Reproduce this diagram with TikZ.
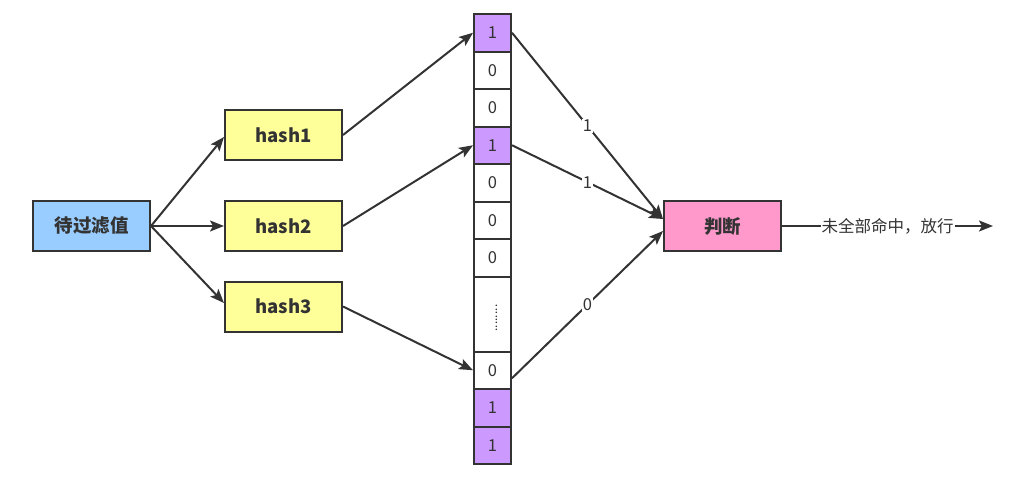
\documentclass[tikz,border=0pt]{standalone}
\usepackage{fontspec}
\setmainfont{Noto Sans CJK SC}
\usetikzlibrary{arrows.meta}
\definecolor{ink}{HTML}{333333}
\definecolor{srcfill}{HTML}{99CCFF}
\definecolor{hashfill}{HTML}{FFFF99}
\definecolor{bitfill}{HTML}{CC99FF}
\definecolor{judgefill}{HTML}{FF99CC}
\tikzset{
  box/.style={draw=ink, line width=2pt, minimum width=117pt, minimum height=50pt, inner sep=0pt,
    font=\fontsize{18.5}{18.5}\selectfont\bfseries, text=ink},
  cell/.style={draw=ink, line width=2pt, minimum width=37pt, minimum height=37.5pt, inner sep=0pt,
    font=\fontsize{16.5}{16.5}\selectfont, text=ink, fill=white},
  bit/.style={cell, fill=bitfill},
  conn/.style={draw=ink, line width=2pt, -{Stealth[length=14pt,width=11pt,inset=3pt]}},
  elabel/.style={fill=white, inner sep=1pt, font=\fontsize{16.5}{16.5}\selectfont, text=ink}
}
\begin{document}
\begin{tikzpicture}[x=1pt,y=-1pt]
\useasboundingbox (0,0) rectangle (1014,498);
\node[box, fill=srcfill] (src) at (91.5,226) {待过滤值};
\node[box, fill=hashfill] (h1) at (283.5,135) {hash1};
\node[box, fill=hashfill] (h2) at (283.5,226) {hash2};
\node[box, fill=hashfill] (h3) at (283.5,306.5) {hash3};
\node[box, fill=judgefill] (judge) at (722.5,226) {判断};
% bit array
\node[bit]  (c1) at (492.5,32.75) {1};
\node[cell] (c2) at (492.5,70.25) {0};
\node[cell] (c3) at (492.5,107.75) {0};
\node[bit]  (c4) at (492.5,145.25) {1};
\node[cell] (c5) at (492.5,182.75) {0};
\node[cell] (c6) at (492.5,220.25) {0};
\node[cell] (c7) at (492.5,257.75) {0};
\node[cell, minimum height=75pt] (cdots) at (492.5,314) {};
\node[rotate=90, font=\fontsize{12}{12}\selectfont, text=ink, inner sep=0pt] (dots) at ([xshift=4pt,yshift=-4pt]cdots.center) {........};
\node[cell] (c10) at (492.5,370.25) {0};
\node[bit]  (c11) at (492.5,407.75) {1};
\node[bit]  (c12) at (492.5,445.25) {1};
% connectors
\draw[conn] (src.east) -- ([yshift=-2pt]h1.west);
\draw[conn] (src.east) -- (h2.west);
\draw[conn] (src.east) -- ([yshift=3.5pt]h3.west);
\draw[conn] (h1.east) -- (c1.west);
\draw[conn] (h2.east) -- (c4.west);
\draw[conn] (h3.east) -- (c10.west);
\draw[conn] (c1.east) -- node[elabel, pos=0.5] {1} ([yshift=7pt]judge.west);
\draw[conn] (c4.east) -- node[elabel, pos=0.5] {1} ([yshift=7pt]judge.west);
\draw[conn] ([yshift=-8pt]c10.east) -- node[elabel, pos=0.5] {0} ([yshift=-5pt]judge.west);
\coordinate (out) at (993,226);
\draw[conn] (judge.east) -- node[fill=white, inner sep=1pt, font=\fontsize{16.5}{16.5}\selectfont, text=ink] {未全部命中，放行} (out);
\end{tikzpicture}
\end{document}
